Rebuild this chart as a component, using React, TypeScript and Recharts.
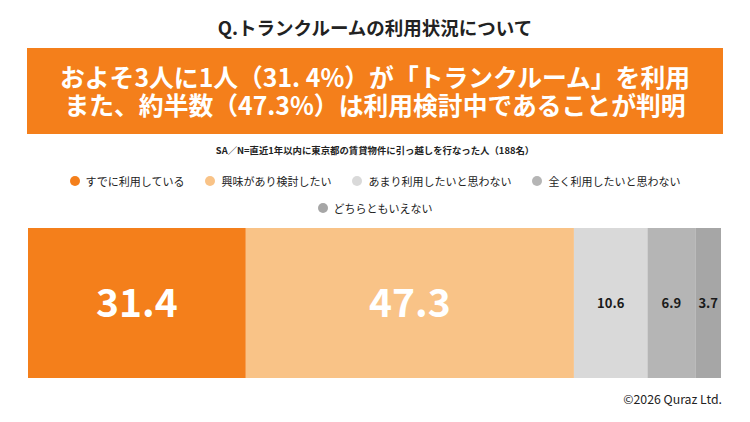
import React from 'react';
import { BarChart, Bar, XAxis, YAxis, LabelList } from 'recharts';

const categories = ['トランクルームの利用状況'];
const seriesNames = ['すでに利用している', '興味があり検討したい', 'あまり利用したいと思わない', '全く利用したいと思わない', 'どちらともいえない'];
const seriesValues = [31.4, 47.3, 10.6, 6.9, 3.7];
const seriesColors = ['#F47F1B', '#F9C387', '#D9D9D9', '#B5B5B5', '#A6A6A6'];
const labelColors = ['#FFFFFF', '#FFFFFF', '#1A1A1A', '#1A1A1A', '#1A1A1A'];
const labelSizes = [39, 39, 13, 13, 13];

const data = categories.map((c) => {
  const row: Record<string, string | number> = { name: c };
  seriesValues.forEach((v, i) => { row['s' + i] = v; });
  return row;
});

const FONT = '"Noto Sans CJK JP", "Noto Sans", sans-serif';

const LegendBlock = () => {
  const row1 = seriesNames.slice(0, 4).map((n, i) => ({ n, i }));
  const row2 = seriesNames.slice(4).map((n, i) => ({ n, i: i + 4 }));
  const item = ({ n, i }: { n: string; i: number }) => (
    <div key={n} style={{ display: 'flex', alignItems: 'center', margin: '0 10.5px' }}>
      <span style={{ width: 10, height: 10, borderRadius: 5, background: seriesColors[i], display: 'inline-block', marginRight: 6 }} />
      <span style={{ fontSize: 11, color: '#222', fontFamily: FONT }}>{n}</span>
    </div>
  );
  return (
    <div style={{ position: 'absolute', top: 167, left: 0, width: 750 }}>
      <div style={{ display: 'flex', justifyContent: 'center', height: 27, alignItems: 'center' }}>{row1.map(item)}</div>
      <div style={{ display: 'flex', justifyContent: 'center', height: 27, alignItems: 'center' }}>{row2.map(item)}</div>
    </div>
  );
};

export default function App() {
  return (
    <div style={{ position: 'absolute', left: 0, top: 0, width: 750, height: 422, background: '#fff', fontFamily: FONT }}>
      <div style={{ position: 'absolute', top: 13, left: 0, width: 750, textAlign: 'center', fontSize: 18.5, fontWeight: 700, color: '#222', lineHeight: '28px' }}>
        Q.トランクルームの利用状況について
      </div>
      <div style={{ position: 'absolute', top: 48, left: 27, width: 696, height: 86, background: '#F47F1B', color: '#fff', fontWeight: 700, fontSize: 24.8, textAlign: 'center', lineHeight: '28px', paddingTop: 14, boxSizing: 'border-box' }}>
        <div>およそ3人に1人（31. 4%）が「トランクルーム」を利用</div>
        <div>また、約半数（47.3%）は利用検討中であることが判明</div>
      </div>
      <div style={{ position: 'absolute', top: 142, left: 0, width: 750, textAlign: 'center', fontSize: 9.4, fontWeight: 700, color: '#222', lineHeight: '16px' }}>
        SA／N=直近1年以内に東京都の賃貸物件に引っ越しを行なった人（188名）
      </div>
      <LegendBlock />
      <div style={{ position: 'absolute', top: 0, left: 0 }}>
        <BarChart width={750} height={422} data={data} layout="vertical" barCategoryGap={0}
          margin={{ top: 228, right: 29, bottom: 44, left: 28 }}>
          <XAxis type="number" hide domain={[0, 99.9]} />
          <YAxis type="category" dataKey="name" hide />
          {seriesValues.map((_, i) => (
            <Bar key={i} dataKey={'s' + i} name={seriesNames[i]} stackId="a" fill={seriesColors[i]} isAnimationActive={false}>
              <LabelList dataKey={'s' + i} position="center" fill={labelColors[i]}
                style={{ fontSize: labelSizes[i], fontWeight: 700, fontFamily: FONT }}
                formatter={(v: number) => v.toFixed(1)} />
            </Bar>
          ))}
        </BarChart>
      </div>
      <div style={{ position: 'absolute', top: 391, right: 28, fontSize: 12.3, color: '#222', lineHeight: '16px' }}>
        ©2026 Quraz Ltd.
      </div>
    </div>
  );
}
